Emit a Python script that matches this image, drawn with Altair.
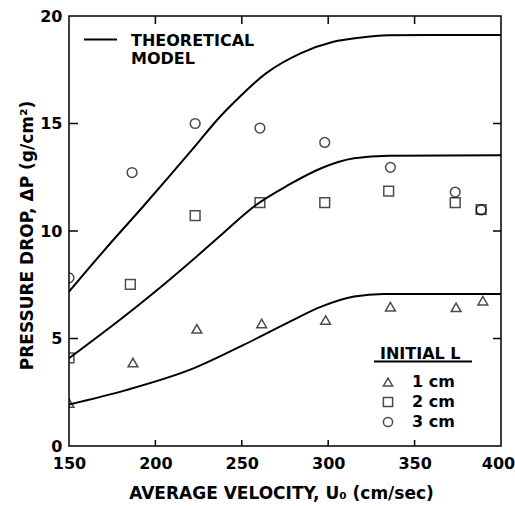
import altair as alt
import pandas as pd

u_1cm = [150, 187, 224, 261.5, 298.5, 336, 374, 389.5]
dp_1cm = [2.0, 3.88, 5.45, 5.7, 5.86, 6.48, 6.45, 6.76]
u_2cm = [150, 185.5, 223, 260.5, 298, 335, 373.5, 388.5]
dp_2cm = [4.1, 7.52, 10.72, 11.32, 11.32, 11.86, 11.32, 11.0]
u_3cm = [150, 186.5, 223, 260.5, 298, 336, 373.5, 388.5]
dp_3cm = [7.82, 12.72, 15.0, 14.79, 14.12, 12.96, 11.81, 10.98]
initial_l = ["1 cm", "2 cm", "3 cm"]

# ---- theoretical model curves ----
model_1cm_u = [150, 183, 222, 251, 277, 296, 315, 332, 400]
model_1cm_dp = [1.93, 2.6, 3.61, 4.7, 5.75, 6.48, 6.95, 7.07, 7.07]
model_2cm_u = [150, 183, 208, 226, 237, 258, 277, 296, 315, 335, 400]
model_2cm_dp = [4.08, 6.09, 7.72, 8.96, 9.74, 11.2, 12.14, 12.92, 13.38, 13.5, 13.52]
model_3cm_u = [150, 171, 193, 222, 237, 245, 264, 284, 303, 318, 335, 360, 400]
model_3cm_dp = [7.18, 9.16, 11.15, 13.85, 15.28, 15.94, 17.33, 18.26, 18.8, 18.99, 19.1, 19.12, 19.12]

x_ticks = [200, 250, 300, 350]
y_ticks = [5, 10, 15]
x_labels = [150, 200, 250, 300, 350, 400]
y_labels = [0, 5, 10, 15, 20]

FONT = "DejaVu Sans"
W, H = 432, 430

pts = pd.concat([
    pd.DataFrame({"u": u_1cm, "dp": dp_1cm, "L": initial_l[0]}),
    pd.DataFrame({"u": u_2cm, "dp": dp_2cm, "L": initial_l[1]}),
    pd.DataFrame({"u": u_3cm, "dp": dp_3cm, "L": initial_l[2]}),
])
curves = pd.concat([
    pd.DataFrame({"u": model_1cm_u, "dp": model_1cm_dp, "s": "a"}),
    pd.DataFrame({"u": model_2cm_u, "dp": model_2cm_dp, "s": "b"}),
    pd.DataFrame({"u": model_3cm_u, "dp": model_3cm_dp, "s": "c"}),
])

xs = alt.Scale(domain=[150, 400], nice=False, zero=False)
ys = alt.Scale(domain=[0, 20], nice=False)

axis_style = dict(labelFont=FONT, labelFontSize=16, labelFontWeight="bold", labelColor="black",
                  titleFont=FONT, titleFontSize=17, titleFontWeight="bold", titleColor="black",
                  ticks=False, domain=False, grid=False, format="d", labelFlush=False)

x_axis = alt.Axis(values=x_labels, labelPadding=9, title="AVERAGE VELOCITY, U₀ (cm/sec)",
                  titleX=212, titleY=47, titleBaseline="middle", titleAlign="center",
                  labelOffset={"condition": {"test": "datum.value == 400", "value": -3}, "value": 0},
                  **axis_style)
y_axis = alt.Axis(values=y_labels, labelPadding=7, title="PRESSURE DROP, ΔP (g/cm²)",
                  titleX=-42, titleY=219, titleAngle=-90, titleBaseline="middle",
                  titleAlign="center", **axis_style)

lines = alt.Chart(curves).mark_line(color="black", strokeWidth=2, interpolate="monotone").encode(
    x=alt.X("u:Q", scale=xs, axis=x_axis),
    y=alt.Y("dp:Q", scale=ys, axis=y_axis),
    detail="s:N",
)

points = alt.Chart(pts).mark_point(filled=False, strokeWidth=1.5, clip=True, size=95, color="black").encode(
    x=alt.X("u:Q", scale=xs),
    y=alt.Y("dp:Q", scale=ys),
    shape=alt.Shape("L:N",
                    scale=alt.Scale(domain=initial_l, range=["triangle-up", "square", "circle"]),
                    legend=alt.Legend(orient="none", legendX=311, legendY=330, title="INITIAL L",
                                      titleFont=FONT, titleFontSize=16, titleFontWeight="bold",
                                      titleColor="black", titlePadding=12,
                                      labelFont=FONT, labelFontSize=16, labelFontWeight="bold",
                                      labelColor="black", labelOffset=16, rowPadding=4,
                                      symbolSize=85, symbolStrokeWidth=1.5,
                                      symbolStrokeColor="black", padding=0)),
)

xt_bottom = alt.Chart(pd.DataFrame({"t": x_ticks})).mark_rule(color="black", strokeWidth=1.5).encode(
    x=alt.X("t:Q", scale=xs), y=alt.value(H), y2=alt.value(H - 6))
xt_top = alt.Chart(pd.DataFrame({"t": x_ticks})).mark_rule(color="black", strokeWidth=1.5).encode(
    x=alt.X("t:Q", scale=xs), y=alt.value(0), y2=alt.value(8))
yt_left = alt.Chart(pd.DataFrame({"t": y_ticks})).mark_rule(color="black", strokeWidth=1.5).encode(
    y=alt.Y("t:Q", scale=ys), x=alt.value(0), x2=alt.value(9))
yt_right = alt.Chart(pd.DataFrame({"t": y_ticks})).mark_rule(color="black", strokeWidth=1.5).encode(
    y=alt.Y("t:Q", scale=ys), x=alt.value(W), x2=alt.value(W - 8))

# legend for the theoretical model
model_line = alt.Chart(alt.Data(values=[{"k": 1}])).mark_rule(color="black", strokeWidth=2).encode(
    x=alt.value(15), x2=alt.value(48), y=alt.value(23.5))
model_t1 = alt.Chart(alt.Data(values=[{"label": "THEORETICAL"}])).mark_text(
    font=FONT, fontSize=16, fontWeight="bold", align="left", baseline="middle", color="black").encode(
    text="label:N", x=alt.value(62), y=alt.value(25))
model_t2 = alt.Chart(alt.Data(values=[{"label": "MODEL"}])).mark_text(
    font=FONT, fontSize=16, fontWeight="bold", align="left", baseline="middle", color="black").encode(
    text="label:N", x=alt.value(62), y=alt.value(43))
underline = alt.Chart(alt.Data(values=[{"k": 1}])).mark_rule(color="black", strokeWidth=2).encode(
    x=alt.value(305), x2=alt.value(403), y=alt.value(345.5))

chart = alt.layer(lines, points, xt_bottom, xt_top, yt_left, yt_right,
                  model_line, model_t1, model_t2, underline).properties(
    width=W, height=H,
    padding={"left": 69, "top": 16, "right": 14, "bottom": 60},
    autosize=alt.AutoSizeParams(type="none"),
    background="white",
).configure_view(stroke="black", strokeWidth=1.5)

chart.save("out.html", embed_options={"renderer": "svg", "actions": False})
